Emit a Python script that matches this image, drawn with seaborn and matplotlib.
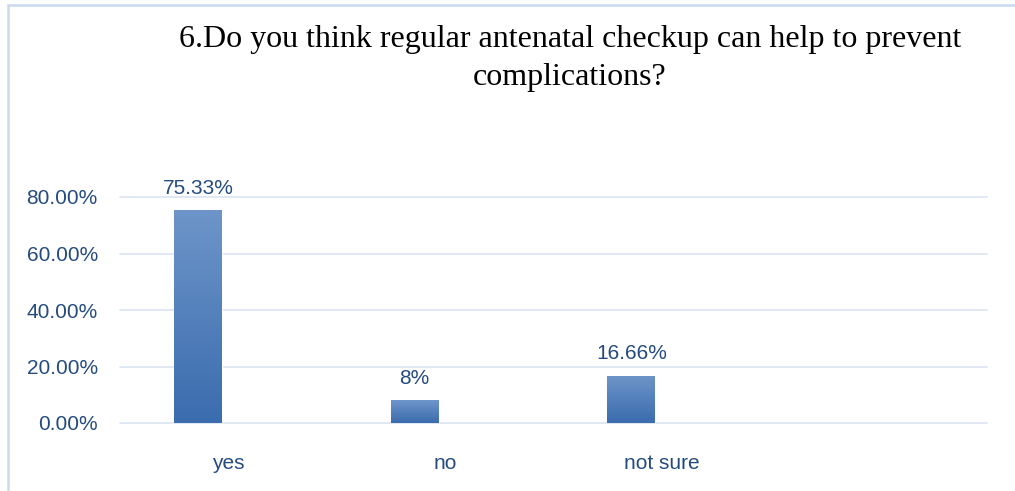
#!/usr/bin/env python3
# Bar chart: regular antenatal checkup question 6

import numpy as np
import pandas as pd
import matplotlib.pyplot as plt
from matplotlib.patches import Rectangle
from matplotlib.colors import LinearSegmentedColormap
import seaborn as sns

# ============================================================================
# DATA
# ============================================================================
categories = ["yes", "no", "not sure"]
percent = [75.33, 8.0, 16.66]
value_labels = ["75.33%", "8%", "16.66%"]
y_ticks = [0, 20, 40, 60, 80]
title = "6.Do you think regular antenatal checkup can help to prevent\ncomplications?"

df = pd.DataFrame({"answer": categories, "percent": percent, "series": "Series1"})

# ============================================================================
# THEME SETTINGS
# ============================================================================
sns.set_theme(style="white")
plt.rcParams['font.family'] = ['Liberation Sans', 'DejaVu Sans']

text_color = "#254b7e"
grid_color = "#dce6f2"
bar_cmap = LinearSegmentedColormap.from_list("bar", ["#3b6cae", "#6d95c9"])

# ============================================================================
# CREATE PLOT
# ============================================================================
fig = plt.figure(figsize=(10.15, 4.91), dpi=100)
ax = fig.add_axes([120 / 1015, 1 - 423 / 491, 867 / 1015, 226 / 491])

# second (empty) series keeps the Excel-style left offset of the bars
sns.barplot(data=df, x="answer", y="percent", hue="series",
            hue_order=["Series1", "Series2"], order=categories,
            width=0.564, gap=0.215, dodge=True,
            palette=["#4a7dbf", "#c0504d"], legend=False, ax=ax)

# gradient fill clipped to each bar
grad = np.linspace(0, 1, 256).reshape(-1, 1)
for bar in ax.patches:
    h = bar.get_height()
    if not h or np.isnan(h):
        continue
    x0, y0, w = bar.get_x(), bar.get_y(), bar.get_width()
    im = ax.imshow(grad, cmap=bar_cmap, aspect='auto', origin='lower',
                   extent=[x0, x0 + w, y0, y0 + h], zorder=bar.get_zorder() + 0.1)
    im.set_clip_path(bar)

ax.bar_label(ax.containers[0], labels=value_labels, padding=9,
             fontsize=15, color=text_color)

ax.set_xlim(-0.5, 3.5)
ax.set_ylim(0, 80)
ax.set_yticks(y_ticks)
ax.set_yticklabels([f"{v:.2f}%" for v in y_ticks])
ax.set_xlabel("")
ax.set_ylabel("")
ax.tick_params(axis='y', length=0, pad=16, labelsize=15, labelcolor=text_color)
ax.tick_params(axis='x', length=0, pad=22, labelsize=15, labelcolor=text_color)

ax.yaxis.grid(True, color=grid_color, linewidth=1.3)
ax.xaxis.grid(False)
ax.set_axisbelow(True)
for line in ax.get_ygridlines():
    line.set_clip_on(False)
for s in ax.spines.values():
    s.set_visible(False)

fig.text(570 / 1015, 1 - 25 / 491, title, ha='center', va='top',
         fontsize=23, family='Liberation Serif', color='black', linespacing=1.42)

# outer chart border
fig.patches.append(Rectangle((8 / 1015, -0.1), 1.2, 1 - 5 / 491 + 0.1,
                             transform=fig.transFigure, fill=False,
                             edgecolor="#c9daf0", linewidth=1.8))

# ============================================================================
# SAVE OUTPUT
# ============================================================================
plt.savefig("out.png", dpi=100)
plt.close()
